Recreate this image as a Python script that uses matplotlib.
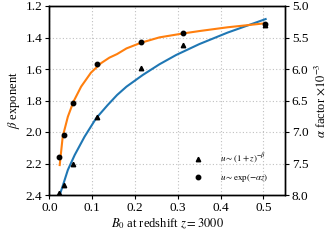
import matplotlib
matplotlib.use("Agg")
import matplotlib.pyplot as plt
from matplotlib.lines import Line2D

plt.rcParams['font.family'] = ['Liberation Serif', 'DejaVu Serif']
plt.rcParams['mathtext.fontset'] = 'stix'

# measured points
b0_pts = [0.0235, 0.034, 0.055, 0.110, 0.214, 0.313, 0.503]
beta_pts = [2.389, 2.336, 2.205, 1.907, 1.596, 1.448, 1.321]
alpha_pts = [7.40, 7.04, 6.535, 5.925, 5.567, 5.433, 5.286]

# fitted curves
b0_beta_fit = [0.024, 0.033, 0.043, 0.059, 0.082, 0.109, 0.136, 0.158,
               0.180, 0.218, 0.257, 0.296, 0.350, 0.416, 0.505]
beta_fit = [2.400, 2.326, 2.241, 2.146, 2.030, 1.913, 1.829, 1.765,
            1.712, 1.638, 1.570, 1.511, 1.442, 1.369, 1.283]
b0_alpha_fit = [0.024, 0.031, 0.043, 0.056, 0.074, 0.097, 0.120, 0.140,
                0.158, 0.180, 0.214, 0.257, 0.313, 0.350, 0.416, 0.503]
alpha_fit = [7.525, 7.075, 6.758, 6.520, 6.280, 6.058, 5.910, 5.820,
             5.763, 5.673, 5.583, 5.498, 5.435, 5.398, 5.338, 5.275]

beta_ticks = [1.2, 1.4, 1.6, 1.8, 2.0, 2.2, 2.4]
alpha_ticks = [5.0, 5.5, 6.0, 6.5, 7.0, 7.5, 8.0]
x_ticks = [0.0, 0.1, 0.2, 0.3, 0.4, 0.5]

fig = plt.figure(figsize=(3.34, 2.40), dpi=100)
ax = fig.add_axes([0.148, 0.1875, 0.705, 0.7875])
ax2 = ax.twinx()

ax.plot(b0_beta_fit, beta_fit, color='#1f77b4', lw=1.5, zorder=2)
ax.plot(b0_pts, beta_pts, '^', color='black', ms=3.2, zorder=3)
ax2.plot(b0_alpha_fit, alpha_fit, color='#ff7f0e', lw=1.5, zorder=2)
ax2.plot(b0_pts, alpha_pts, 'o', color='black', ms=3.2, zorder=3)

ax.set_xlim(0, 0.55)
ax.set_ylim(2.4, 1.2)
ax2.set_ylim(8.0, 5.0)
ax.set_xticks(x_ticks)
ax.set_yticks(beta_ticks)
ax2.set_yticks(alpha_ticks)
ax.set_xticklabels([f"{t:.1f}" for t in x_ticks])
ax.set_yticklabels([f"{t:.1f}" for t in beta_ticks])
ax2.set_yticklabels([f"{t:.1f}" for t in alpha_ticks])

ax.grid(True, color='#c0c0c0', linestyle=(0, (1, 2)), linewidth=0.8)
ax.tick_params(labelsize=9.5, length=3, width=0.8, pad=2)
ax2.tick_params(labelsize=9.5, length=3, width=0.8, pad=2)
for a in (ax, ax2):
    for s in a.spines.values():
        s.set_linewidth(1.0)

ax.set_xlabel(r"$B_0$ at redshift $z = 3000$", fontsize=9, labelpad=2)
ax.set_ylabel(r"$\beta$ exponent", fontsize=9, labelpad=3)
ax2.set_ylabel(r"$\alpha$ factor $\times 10^{-3}$", fontsize=9, labelpad=3)

handles = [Line2D([], [], ls='none', marker='^', color='black', ms=3.2),
           Line2D([], [], ls='none', marker='o', color='black', ms=3.2)]
labels = [r"$u \sim (1+z)^{-\beta}$", r"$u \sim \exp(-\alpha z)$"]
ax2.legend(handles, labels, loc='lower right', bbox_to_anchor=(0.945, 0.04),
           frameon=False, fontsize=6.5, handletextpad=1.4,
           borderaxespad=0.0, labelspacing=0.6)

fig.savefig("out.png", dpi=100)
